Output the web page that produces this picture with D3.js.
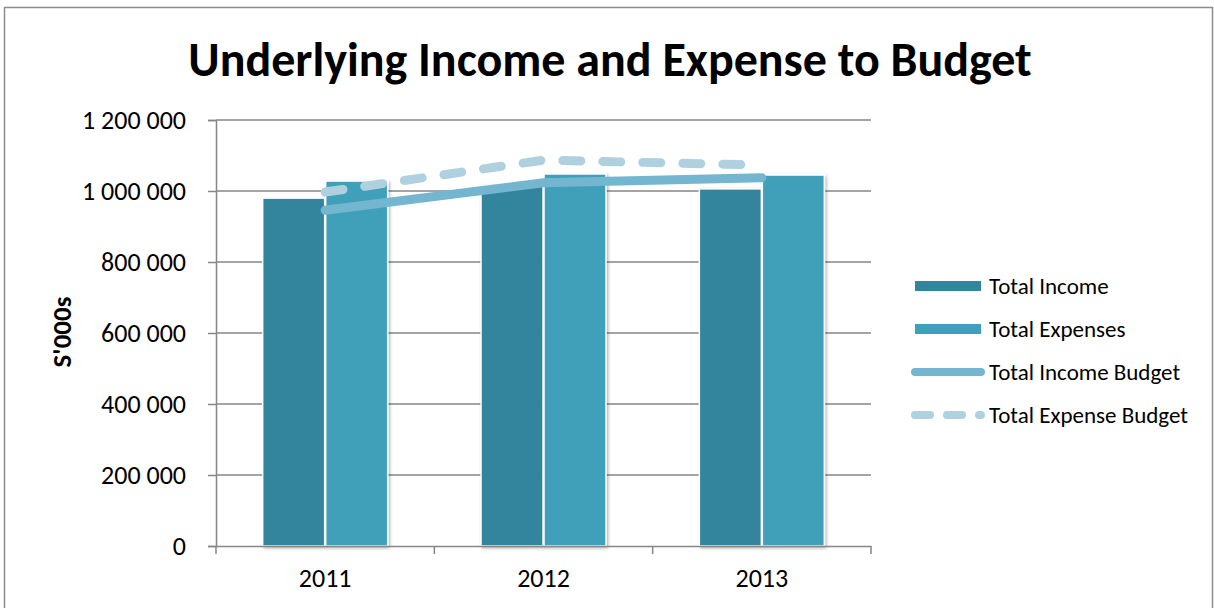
<!DOCTYPE html>
<html>
<head>
<meta charset="utf-8">
<script src="https://cdn.jsdelivr.net/npm/d3@7"></script>
<style>
  body { margin: 0; background: #fff; }
  svg { display: block; }
</style>
</head>
<body>
<script>
// Size
var w = 1214;
var h = 608;

// Data
var years = ["2011", "2012", "2013"];
var totalIncome = [980000, 1014000, 1006000];
var totalExpenses = [1028000, 1048000, 1045000];
var incomeBudget = [946000, 1023000, 1037000];
var expenseBudget = [997000, 1087000, 1073000];
var yTicks = [0, 200000, 400000, 600000, 800000, 1000000, 1200000];

var font = "Calibri, Carlito, 'Open Sans', sans-serif";

var svg = d3.select("body")
            .append("svg")
            .attr("width", w)
            .attr("height", h);

// Outer chart border
svg.append("rect")
   .attr("x", 4.5).attr("y", 7.5)
   .attr("width", 1208).attr("height", 620)
   .attr("fill", "none")
   .attr("stroke", "#8c8c8c")
   .attr("stroke-width", 1.5);

var plot = { left: 216, right: 871, top: 120, bottom: 546 };

var x = d3.scaleBand()
          .domain(years)
          .range([plot.left, plot.right]);

var y = d3.scaleLinear()
          .domain([0, 1200000])
          .range([plot.bottom, plot.top]);

var fmt = function(d) { return d3.format(",")(d).replace(/,/g, " "); };

// Gridlines
svg.selectAll("line.grid")
   .data(yTicks.slice(1))
   .enter()
   .append("line")
   .attr("class", "grid")
   .attr("x1", plot.left).attr("x2", plot.right)
   .attr("y1", function(d) { return y(d); })
   .attr("y2", function(d) { return y(d); })
   .attr("stroke", "#868686")
   .attr("stroke-width", 1.5);

// Y axis
var yAxis = svg.append("g")
   .attr("transform", "translate(" + plot.left + ",0)")
   .call(d3.axisLeft(y).tickValues(yTicks).tickFormat(fmt).tickSize(8).tickPadding(22));
yAxis.select(".domain").attr("stroke", "#868686").attr("stroke-width", 1.5);
yAxis.selectAll(".tick line").attr("stroke", "#868686").attr("stroke-width", 1.5);
yAxis.selectAll(".tick text")
     .attr("font-family", font)
     .attr("font-size", "26px")
     .attr("fill", "#000");

// Bar shadow filter
var defs = svg.append("defs");
var f = defs.append("filter").attr("id", "shadow")
            .attr("x", "-20%").attr("y", "-5%").attr("width", "140%").attr("height", "110%");
f.append("feDropShadow")
 .attr("dx", 1.5).attr("dy", 1.5).attr("stdDeviation", 1.5)
 .attr("flood-color", "#000").attr("flood-opacity", 0.3);

var barW = 62;
var barGap = 0.5;

// Total Income bars
svg.selectAll("rect.income")
   .data(totalIncome)
   .enter()
   .append("rect")
   .attr("class", "income")
   .attr("x", function(d, i) { return x(years[i]) + x.bandwidth() / 2 - barW - barGap; })
   .attr("y", function(d) { return y(d); })
   .attr("width", barW)
   .attr("height", function(d) { return plot.bottom - y(d); })
   .attr("fill", "#31859c")
   .attr("stroke", "#fff")
   .attr("stroke-width", 1.5)
   .attr("filter", "url(#shadow)");

// Total Expenses bars
svg.selectAll("rect.expenses")
   .data(totalExpenses)
   .enter()
   .append("rect")
   .attr("class", "expenses")
   .attr("x", function(d, i) { return x(years[i]) + x.bandwidth() / 2 + barGap; })
   .attr("y", function(d) { return y(d); })
   .attr("width", barW)
   .attr("height", function(d) { return plot.bottom - y(d); })
   .attr("fill", "#3fa0ba")
   .attr("stroke", "#fff")
   .attr("stroke-width", 1.5)
   .attr("filter", "url(#shadow)");

// X axis
var xAxis = svg.append("g")
   .attr("transform", "translate(0," + plot.bottom + ")")
   .call(d3.axisBottom(x).tickSize(0).tickPadding(23));
xAxis.select(".domain").attr("stroke", "#868686").attr("stroke-width", 1.5);
xAxis.selectAll(".tick text")
     .attr("font-family", font)
     .attr("font-size", "26px")
     .attr("fill", "#000");
// category boundary ticks
svg.selectAll("line.xtick")
   .data(years.concat([null]))
   .enter()
   .append("line")
   .attr("class", "xtick")
   .attr("x1", function(d, i) { return plot.left + i * x.bandwidth(); })
   .attr("x2", function(d, i) { return plot.left + i * x.bandwidth(); })
   .attr("y1", plot.bottom)
   .attr("y2", plot.bottom + 8)
   .attr("stroke", "#868686")
   .attr("stroke-width", 1.5);

// Budget lines
var line = d3.line()
   .x(function(d, i) { return x(years[i]) + x.bandwidth() / 2; })
   .y(function(d) { return y(d); });

svg.append("path")
   .datum(expenseBudget)
   .attr("d", line)
   .attr("fill", "none")
   .attr("stroke", "#afd1df")
   .attr("stroke-width", 9)
   .attr("stroke-linecap", "round")
   .attr("stroke-dasharray", "18 22");

svg.append("path")
   .datum(incomeBudget)
   .attr("d", line)
   .attr("fill", "none")
   .attr("stroke", "#74b6cf")
   .attr("stroke-width", 9)
   .attr("stroke-linecap", "round");

// Title
svg.append("text")
   .text("Underlying Income and Expense to Budget")
   .attr("x", 610)
   .attr("y", 76)
   .attr("text-anchor", "middle")
   .attr("font-family", font)
   .attr("font-weight", "bold")
   .attr("font-size", "48px")
   .attr("fill", "#000");

// Y axis title
svg.append("text")
   .text("S'000s")
   .attr("transform", "translate(71,332) rotate(-90)")
   .attr("text-anchor", "middle")
   .attr("font-family", font)
   .attr("font-weight", "bold")
   .attr("font-size", "27px")
   .attr("fill", "#000");

// Legend
var legendItems = [
  { name: "Total Income", type: "bar", color: "#31859c" },
  { name: "Total Expenses", type: "bar", color: "#3fa0ba" },
  { name: "Total Income Budget", type: "line", color: "#74b6cf" },
  { name: "Total Expense Budget", type: "dash", color: "#afd1df" }
];

var legend = svg.selectAll("g.legend")
   .data(legendItems)
   .enter()
   .append("g")
   .attr("class", "legend")
   .attr("transform", function(d, i) { return "translate(0," + (286 + i * 43) + ")"; });

legend.filter(function(d) { return d.type === "bar"; })
   .append("rect")
   .attr("x", 915).attr("y", -5)
   .attr("width", 66).attr("height", 10)
   .attr("fill", function(d) { return d.color; });

legend.filter(function(d) { return d.type !== "bar"; })
   .append("line")
   .attr("x1", 915).attr("x2", 981)
   .attr("y1", 0).attr("y2", 0)
   .attr("stroke", function(d) { return d.color; })
   .attr("stroke-width", 8)
   .attr("stroke-linecap", "round")
   .attr("stroke-dasharray", function(d) { return d.type === "dash" ? "15 17" : null; });

legend.append("text")
   .text(function(d) { return d.name; })
   .attr("x", 989)
   .attr("y", 8)
   .attr("font-family", font)
   .attr("font-size", "23px")
   .attr("fill", "#000");
</script>
</body>
</html>
